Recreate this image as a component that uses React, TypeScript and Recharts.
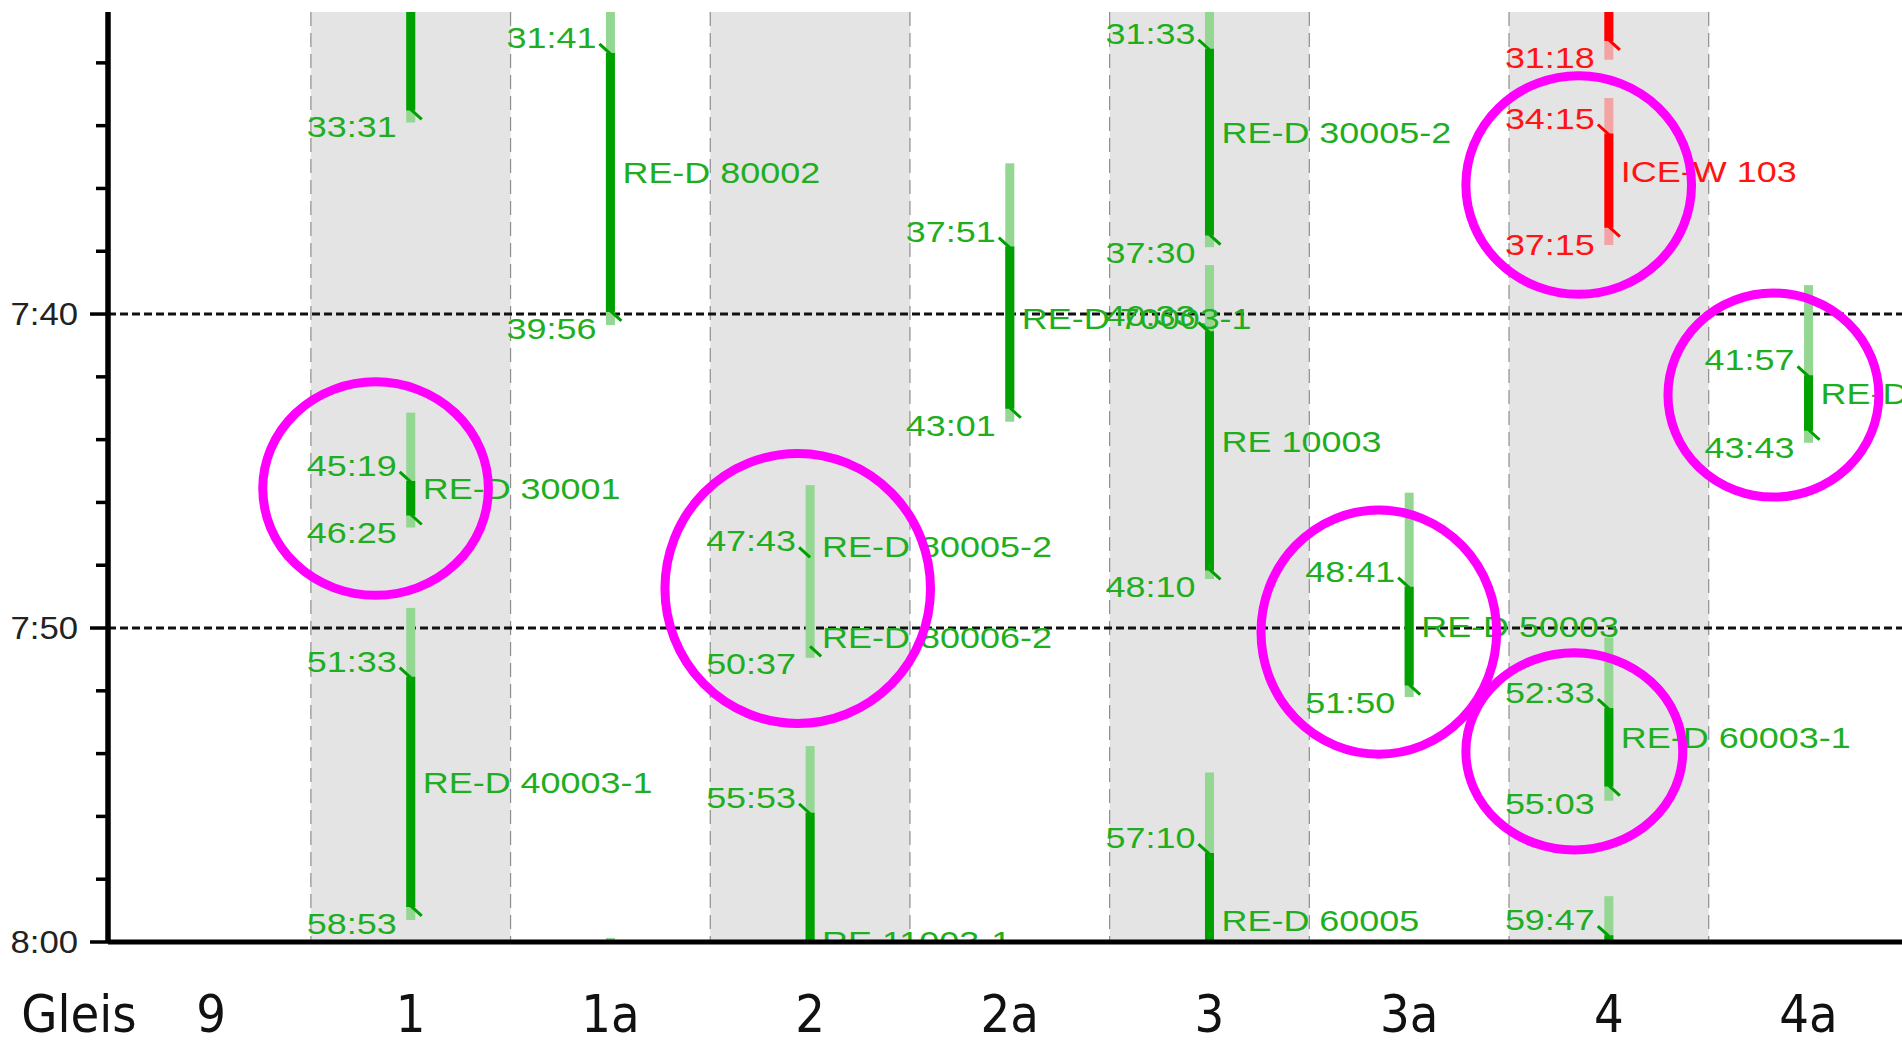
import React from 'react';
import { ComposedChart, XAxis, YAxis, ReferenceArea } from 'recharts';

// ---------- data ----------
const tracks = ['9', '1', '1a', '2', '2a', '3', '3a', '4', '4a'];
const shadedTracks = ['1', '2', '3', '4'];
const yDomain = [30.38, 60]; // minutes after 7:00
const yTicks = [32, 34, 36, 38, 40, 42, 44, 46, 48, 50, 52, 54, 56, 58, 60];
const dashedTimes = [40, 50];

type Train = {
  track: string;
  arr: string;
  dep: string;
  lightFrom: number;
  lightTo: number;
  names: string[];
  color: 'green' | 'red';
  solid: boolean;
};

const trains: Train[] = [
  { track: '1', arr: '24:30', dep: '33:31', lightFrom: 22, lightTo: 33.9, names: [], color: 'green', solid: true },
  { track: '1a', arr: '31:41', dep: '39:56', lightFrom: 28.5, lightTo: 40.35, names: ['RE-D 80002'], color: 'green', solid: true },
  { track: '2a', arr: '24:00', dep: '29:30', lightFrom: 22, lightTo: 29.9, names: [], color: 'green', solid: true },
  { track: '2a', arr: '37:51', dep: '43:01', lightFrom: 35.2, lightTo: 43.43, names: ['RE-D 70003-1'], color: 'green', solid: true },
  { track: '3', arr: '31:33', dep: '37:30', lightFrom: 28.5, lightTo: 37.87, names: ['RE-D 30005-2'], color: 'green', solid: true },
  { track: '3', arr: '40:33', dep: '48:10', lightFrom: 38.44, lightTo: 48.44, names: ['RE 10003'], color: 'green', solid: true },
  { track: '4', arr: '25:00', dep: '31:18', lightFrom: 23, lightTo: 31.9, names: [], color: 'red', solid: true },
  { track: '4', arr: '34:15', dep: '37:15', lightFrom: 33.12, lightTo: 37.8, names: ['ICE-W 103'], color: 'red', solid: true },
  { track: '4a', arr: '41:57', dep: '43:43', lightFrom: 39.08, lightTo: 44.1, names: ['RE-D 70005-1'], color: 'green', solid: true },
  { track: '1', arr: '45:19', dep: '46:25', lightFrom: 43.14, lightTo: 46.8, names: ['RE-D 30001'], color: 'green', solid: true },
  { track: '2', arr: '47:43', dep: '50:37', lightFrom: 45.45, lightTo: 50.95, names: ['RE-D 80005-2', 'RE-D 80006-2'], color: 'green', solid: false },
  { track: '1', arr: '51:33', dep: '58:53', lightFrom: 49.36, lightTo: 59.3, names: ['RE-D 40003-1'], color: 'green', solid: true },
  { track: '2', arr: '55:53', dep: '64:40', lightFrom: 53.76, lightTo: 65.1, names: ['RE 11003-1'], color: 'green', solid: true },
  { track: '3', arr: '57:10', dep: '62:04', lightFrom: 54.6, lightTo: 62.4, names: ['RE-D 60005'], color: 'green', solid: true },
  { track: '3a', arr: '48:41', dep: '51:50', lightFrom: 45.69, lightTo: 52.2, names: ['RE-D 50003'], color: 'green', solid: true },
  { track: '4', arr: '52:33', dep: '55:03', lightFrom: 50.3, lightTo: 55.5, names: ['RE-D 60003-1'], color: 'green', solid: true },
  { track: '4', arr: '59:47', dep: '64:10', lightFrom: 58.54, lightTo: 64.5, names: [], color: 'green', solid: true },
  { track: '1a', arr: '61:30', dep: '66:00', lightFrom: 59.87, lightTo: 66.4, names: [], color: 'green', solid: true },
];

// highlight ellipses: centre (track position, minute), radii (tracks, minutes)
const highlights = [
  { pos: 0.824, min: 45.56, rPos: 0.565, rMin: 3.4 },
  { pos: 2.938, min: 48.74, rPos: 0.665, rMin: 4.3 },
  { pos: 6.849, min: 35.89, rPos: 0.565, rMin: 3.48 },
  { pos: 7.824, min: 42.58, rPos: 0.528, rMin: 3.25 },
  { pos: 5.848, min: 50.13, rPos: 0.59, rMin: 3.89 },
  { pos: 6.827, min: 53.93, rPos: 0.543, rMin: 3.14 },
];

// ---------- helpers ----------
const palette = {
  green: { dark: '#00a000', light: '#93d793', text: '#1fae1f' },
  red: { dark: '#ff0000', light: '#f3a3a3', text: '#ff1414' },
};
const LABEL_FONT = "'Liberation Sans', Arial, sans-serif";
const toMin = (s: string) => {
  const [m, sec] = s.split(':').map(Number);
  return m + sec / 60;
};
const idx = (t: string) => tracks.indexOf(t);
const fmtHour = (m: number) => `${7 + Math.floor(m / 60)}:${String(m % 60).padStart(2, '0')}`;
const shown = (m: number) => m > yDomain[0] - 0.4 && m < yDomain[1] + 1;

const Txt = ({ x, y, anchor, fill, children }: any) => (
  <text
    transform={`translate(${x},${y}) scale(1.24,1)`}
    textAnchor={anchor}
    fill={fill}
    fontFamily={LABEL_FONT}
    fontSize={29}
  >
    {children}
  </text>
);

const bandShape = (p: any) => (
  <g>
    <rect x={p.x} y={p.y} width={p.width} height={p.height} fill="#e4e4e4" />
    <line x1={p.x} x2={p.x} y1={p.y} y2={p.y + p.height} stroke="#8e8e8e" strokeWidth={1.2} strokeDasharray="14 7" />
    <line x1={p.x + p.width} x2={p.x + p.width} y1={p.y} y2={p.y + p.height} stroke="#8e8e8e" strokeWidth={1.2} strokeDasharray="14 7" />
  </g>
);

const dashShape = (p: any) => (
  <line x1={p.x} x2={p.x + p.width} y1={p.y} y2={p.y} stroke="#111" strokeWidth={3} strokeDasharray="8 4" />
);

const lightShape = (t: Train) => (p: any) => {
  const cx = p.x + p.width / 2;
  return (
    <g clipPath={p.clipPath}>
      <rect x={cx - 4.5} y={p.y} width={9} height={p.height} fill={palette[t.color].light} />
    </g>
  );
};

const trainShape = (t: Train) => (p: any) => {
  const cx = p.x + p.width / 2;
  const top = p.y;
  const bot = p.y + p.height;
  const pal = palette[t.color];
  const a = toMin(t.arr);
  const d = toMin(t.dep);
  const nameAt = t.names.length === 2 ? [a, d] : [(a + d) / 2];
  const nameYs = t.names.length === 2 ? [top, bot] : [(top + bot) / 2];
  return (
    <g clipPath={p.clipPath}>
      {t.solid && <line x1={cx} x2={cx} y1={top} y2={bot} stroke={pal.dark} strokeWidth={9} />}
      <line x1={cx - 11} y1={top - 9} x2={cx} y2={top + 1} stroke={pal.dark} strokeWidth={3} />
      <line x1={cx} y1={bot - 1} x2={cx + 11} y2={bot + 9} stroke={pal.dark} strokeWidth={3} />
      {shown(a) && <Txt x={cx - 14} y={top - 5} anchor="end" fill={pal.text}>{t.arr}</Txt>}
      {shown(d) && <Txt x={cx - 14} y={bot + 27} anchor="end" fill={pal.text}>{t.dep}</Txt>}
      {t.names.map((n, i) =>
        shown(nameAt[i]) ? (
          <Txt key={n} x={cx + 12} y={nameYs[i] + 1} anchor="start" fill={pal.text}>{n}</Txt>
        ) : null,
      )}
    </g>
  );
};

const ellipseShape = (p: any) => (
  <ellipse
    cx={p.x + p.width / 2}
    cy={p.y + p.height / 2}
    rx={p.width / 2}
    ry={p.height / 2}
    fill="none"
    stroke="#ff00ff"
    strokeWidth={9}
  />
);

const YTick = (props: any) => {
  const { x, y, payload } = props;
  const v = payload.value;
  const major = v % 10 === 0;
  return (
    <g>
      <line x1={x - (major ? 18 : 12)} x2={x} y1={y} y2={y} stroke="#000" strokeWidth={3.5} />
      {major && (
        <text
          transform={`translate(${x - 30},${y + 11}) scale(1.12,1)`}
          textAnchor="end"
          fill="#222"
          fontFamily={LABEL_FONT}
          fontSize={31}
        >
          {fmtHour(v)}
        </text>
      )}
    </g>
  );
};

const XTick = (props: any) => {
  const { x, y, payload } = props;
  const font = "'DejaVu Sans Condensed', 'DejaVu Sans', sans-serif";
  return (
    <g>
      {payload.value === 0 && (
        <text x={x - 132} y={y + 90} textAnchor="middle" fontFamily={font} fontStretch="condensed" fontSize={52} fill="#111">
          Gleis
        </text>
      )}
      <text x={x} y={y + 90} textAnchor="middle" fontFamily={font} fontStretch="condensed" fontSize={52} fill="#111">
        {tracks[payload.value]}
      </text>
    </g>
  );
};

export default function App() {
  return (
    <div style={{ position: 'fixed', left: 0, top: 0, width: 1902, height: 1045, background: '#fff', overflow: 'hidden' }}>
      <ComposedChart width={1902} height={1045} margin={{ top: 12, right: 0, bottom: 0, left: 0 }}>
        <XAxis
          type="number"
          dataKey="x"
          domain={[-0.516, 8.468]}
          allowDataOverflow
          ticks={tracks.map((_, i) => i)}
          interval={0}
          tick={<XTick />}
          tickLine={false}
          tickSize={0}
          tickMargin={0}
          height={103}
          axisLine={{ stroke: '#000', strokeWidth: 5 }}
        />
        <YAxis
          type="number"
          dataKey="y"
          domain={yDomain}
          reversed
          allowDataOverflow
          ticks={yTicks}
          interval={0}
          tick={<YTick />}
          tickLine={false}
          tickSize={0}
          tickMargin={0}
          width={108}
          axisLine={{ stroke: '#000', strokeWidth: 5.5 }}
        />
        {shadedTracks.map((t) => (
          <ReferenceArea key={'band' + t} x1={idx(t) - 0.5} x2={idx(t) + 0.5} ifOverflow="hidden" shape={bandShape} />
        ))}
        {dashedTimes.map((m) => (
          <ReferenceArea key={'dash' + m} y1={m} y2={m} ifOverflow="hidden" shape={dashShape} />
        ))}
        {trains.map((t, i) => (
          <ReferenceArea
            key={'light' + i}
            x1={idx(t.track) - 0.02}
            x2={idx(t.track) + 0.02}
            y1={t.lightFrom}
            y2={t.lightTo}
            ifOverflow="hidden"
            shape={lightShape(t)}
          />
        ))}
        {trains.map((t, i) => (
          <ReferenceArea
            key={'train' + i}
            x1={idx(t.track) - 0.02}
            x2={idx(t.track) + 0.02}
            y1={toMin(t.arr)}
            y2={toMin(t.dep)}
            ifOverflow="hidden"
            shape={trainShape(t)}
          />
        ))}
        {highlights.map((h, i) => (
          <ReferenceArea
            key={'hl' + i}
            x1={h.pos - h.rPos}
            x2={h.pos + h.rPos}
            y1={h.min - h.rMin}
            y2={h.min + h.rMin}
            ifOverflow="visible"
            shape={ellipseShape}
          />
        ))}
      </ComposedChart>
    </div>
  );
}
